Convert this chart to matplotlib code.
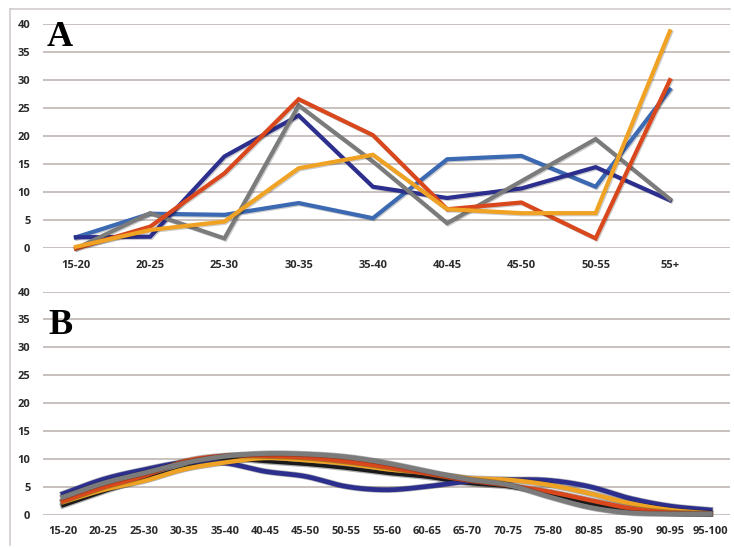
import numpy as np
import matplotlib
matplotlib.use("Agg")
import matplotlib.pyplot as plt
import matplotlib.patheffects as pe
from matplotlib.lines import Line2D

# panel A: age groups
groups_a = ["15-20", "20-25", "25-30", "30-35", "35-40", "40-45", "45-50", "50-55", "55+"]
a_blue = [2, 6.2, 6, 8.1, 5.4, 15.9, 16.5, 11, 28.3]
a_navy = [2, 2.1, 16.4, 23.7, 11, 9, 10.7, 14.5, 8.6]
a_gray = [0, 6.3, 1.8, 25.5, 15.5, 4.5, 12, 19.5, 8.8]
a_red = [0, 3.9, 13.4, 26.6, 20.2, 7, 8.2, 1.8, 30]
a_orange = [0.3, 3.3, 4.8, 14.3, 16.7, 7, 6.3, 6.3, 38.7]

# panel B: 5-year bins
groups_b = ["15-20", "20-25", "25-30", "30-35", "35-40", "40-45", "45-50", "50-55", "55-60",
            "60-65", "65-70", "70-75", "75-80", "80-85", "85-90", "90-95", "95-100"]
b_navy = [3.8, 6.4, 8.1, 9.4, 9.3, 7.8, 6.9, 5.1, 4.5, 5.1, 6.0, 6.3, 6.2, 5.1, 3.0, 1.6, 0.9]
b_gray = [3.2, 5.7, 7.5, 9.3, 10.5, 11.0, 10.9, 10.4, 9.3, 7.8, 6.4, 5.4, 3.3, 1.4, 0.4, 0.2, 0.2]
b_red = [2.5, 5.0, 7.0, 9.6, 10.6, 10.6, 10.3, 9.6, 8.6, 7.4, 6.2, 5.3, 4.2, 2.7, 1.2, 0.4, 0.2]
b_orange = [2.3, 4.5, 6.1, 8.2, 9.4, 10.2, 9.8, 9.2, 8.2, 7.5, 6.6, 6.3, 5.4, 3.9, 2.1, 0.9, 0.3]
b_black = [1.7, 4.2, 6.4, 8.4, 10.0, 9.6, 9.1, 8.4, 7.5, 6.8, 5.7, 5.1, 3.9, 2.1, 0.8, 0.3, 0.2]

C_BLUE = "#3b69b2"
C_NAVY = "#2c2f8e"
C_GRAY = "#7b7b7b"
C_RED = "#d9471c"
C_ORANGE = "#efa223"
C_BLACK = "#1a1a1a"
GRID = "#c9c1bd"


def smooth(vals, n=24):
    # catmull-rom curve through the points, like excel "smoothed line"
    y = np.asarray(vals, dtype=float)
    p = np.concatenate([[2 * y[0] - y[1]], y, [2 * y[-1] - y[-2]]])
    xs, ys = [], []
    t = np.linspace(0, 1, n, endpoint=False)
    for i in range(len(y) - 1):
        p0, p1, p2, p3 = p[i:i + 4]
        seg = 0.5 * (2 * p1 + (-p0 + p2) * t + (2 * p0 - 5 * p1 + 4 * p2 - p3) * t ** 2
                     + (-p0 + 3 * p1 - 3 * p2 + p3) * t ** 3)
        xs.append(i + t)
        ys.append(seg)
    xs.append([len(y) - 1])
    ys.append([y[-1]])
    return np.concatenate(xs), np.concatenate(ys)


def style(ax, labels):
    ax.set_ylim(0, 40)
    ax.set_yticks(range(0, 41, 5))
    ax.set_xticks(range(len(labels)))
    ax.set_xticklabels(labels)
    ax.grid(axis="y", color=GRID, linewidth=1.4)
    ax.set_axisbelow(True)
    for s in ax.spines.values():
        s.set_visible(False)
    ax.tick_params(length=0, labelsize=8, colors="#2a2a2a")
    ax.tick_params(axis="y", pad=9)
    ax.tick_params(axis="x", pad=8)
    for lab in ax.get_xticklabels() + ax.get_yticklabels():
        lab.set_fontweight("bold")
        lab.set_fontfamily("Open Sans")


W, H = 734, 548
fig = plt.figure(figsize=(W / 100, H / 100), dpi=100)
fig.patch.set_facecolor("white")

# frame lines
fig.add_artist(Line2D([10 / W, 730 / W], [1 - 9 / H, 1 - 9 / H], color="#d2cccc", lw=1.2))
fig.add_artist(Line2D([10 / W, 10 / W], [1 - 9 / H, 1 - 545 / H], color="#d2cccc", lw=1.2))

# panel A
ax1 = fig.add_axes([43 / W, 1 - 248.5 / H, 687 / W, 224.5 / H])
style(ax1, groups_a)
ax1.set_xlim(-0.444, 8.81)
shadow = [pe.SimpleLineShadow(offset=(0.8, -0.8), alpha=0.2), pe.Normal()]
xa = np.arange(len(groups_a))
for vals, col in [(a_blue, C_BLUE), (a_navy, C_NAVY), (a_gray, C_GRAY),
                  (a_red, C_RED), (a_orange, C_ORANGE)]:
    ax1.plot(xa, vals, color=col, lw=3.0, solid_joinstyle="miter",
             path_effects=shadow, clip_on=False)
ax1.text(0.006, 0.94, "A", transform=ax1.transAxes, fontsize=26, fontweight="bold",
         family="Liberation Serif", ha="left", va="center")

# panel B
ax2 = fig.add_axes([43 / W, 1 - 515 / H, 687 / W, 223.5 / H])
style(ax2, groups_b)
ax2.set_xlim(-0.495, 16.49)
outline = [pe.Stroke(linewidth=4.4, foreground="#222222", alpha=0.35), pe.Normal()]
for vals, col, lw in [(b_black, C_BLACK, 2.6), (b_navy, C_NAVY, 3.4), (b_orange, C_ORANGE, 3.2),
                      (b_red, C_RED, 3.2), (b_gray, C_GRAY, 3.4)]:
    sx, sy = smooth(vals)
    ax2.plot(sx, sy, color=col, lw=lw, path_effects=outline, clip_on=False)
ax2.text(0.008, 0.85, "B", transform=ax2.transAxes, fontsize=26, fontweight="bold",
         family="Liberation Serif", ha="left", va="center")

fig.savefig("out.png", dpi=100, facecolor="white")
